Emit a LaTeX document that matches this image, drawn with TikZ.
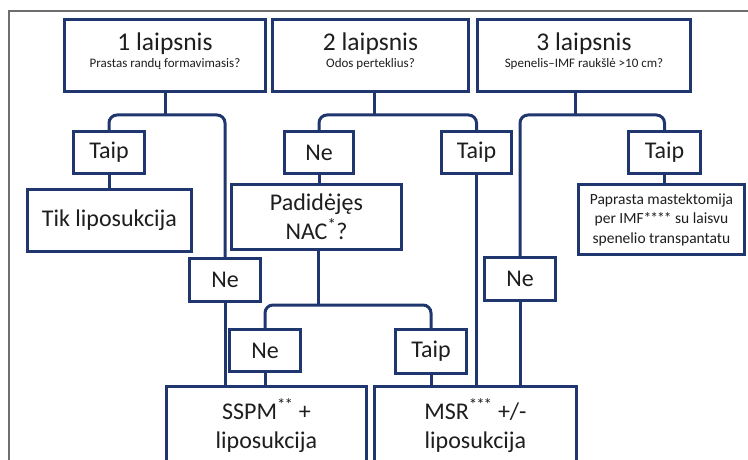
\documentclass[tikz,border=0pt]{standalone}
\usepackage{fontspec}
\setmainfont{Carlito}
\definecolor{navy}{RGB}{32,54,110}
\definecolor{txt}{RGB}{30,30,30}
\definecolor{framegray}{RGB}{110,110,110}
\newcommand{\tightast}{*\kern-1pt}
\begin{document}
\begin{tikzpicture}[x=1pt,y=-1pt,
  box/.style={draw=navy,line width=3pt,fill=white,inner sep=0pt,align=center,text=txt,font=\fontsize{24}{29}\selectfont},
  topbox/.style={box,minimum height=72},
  toptext/.style={align=center,text=txt,font=\fontsize{25.5}{29}\selectfont},
  smallbox/.style={box,font=\fontsize{15.5}{19.5}\selectfont},
  link/.style={draw=navy,line width=3pt,rounded corners=8pt},
  frameline/.style={draw=framegray,line width=1.5pt}]
\useasboundingbox (0,0) rectangle (748,460);
\draw[frameline] (9,462) -- (9,11) -- (750,11);

% top boxes
\node[topbox,minimum width=201] (b1) at (165,55.5) {};
\node[topbox,minimum width=196] (b2) at (370.5,55.5) {};
\node[topbox,minimum width=213] (b3) at (584,55.5) {};
\node[toptext] (l1) at ([yshift=4pt]b1.center)
  {1 laipsnis\\[-12pt]{\fontsize{13}{16}\selectfont Prastas randų formavimasis?}};
\node[toptext] (l2) at ([yshift=4pt]b2.center)
  {2 laipsnis\\[-12pt]{\fontsize{13}{16}\selectfont Odos perteklius?}};
\node[toptext] (l3) at ([yshift=4pt]b3.center)
  {3 laipsnis\\[-12pt]{\fontsize{13}{16}\selectfont Spenelis--IMF raukšlė >10 cm?}};

% answer boxes
\node[box,minimum width=71,minimum height=42] (t1) at (109,152.5) {Taip};
\node[box,minimum width=69,minimum height=42] (n2) at (319,152.5) {Ne};
\node[box,minimum width=70,minimum height=42] (t2) at (476.5,152.5) {Taip};
\node[box,minimum width=72,minimum height=42] (t4) at (664.5,152.5) {Taip};
\node[box,minimum width=71,minimum height=43] (n1) at (225,280) {Ne};
\node[box,minimum width=71,minimum height=43] (n4) at (520,279) {Ne};
\node[box,minimum width=71,minimum height=42] (n3) at (265,350.5) {Ne};
\node[box,minimum width=71,minimum height=44] (t3) at (431,351.5) {Taip};

% outcome boxes
\node[box,minimum width=164,minimum height=62] (tik) at (109.5,220.5) {Tik liposukcija};
\node[box,minimum width=170,minimum height=65] (pad) at (316.5,217) {Padidėjęs\\NAC\textsuperscript{*}?};
\node[smallbox,minimum width=166,minimum height=70] (pap) at (661.5,219.5)
  {Paprasta mastektomija\\per IMF\tightast\tightast\tightast* su laisvu\\spenelio transpantatu};
\node[box,minimum width=200,minimum height=79] (sspm) at (266.5,425.5) {SSPM\textsuperscript{\tightast*} +\\liposukcija};
\node[box,minimum width=202,minimum height=79] (msr) at (475.5,425.5) {MSR\textsuperscript{\tightast\tightast*} +/-\\liposukcija};

% junctions
\coordinate (j1) at (165,115);
\coordinate (j2) at (374,115);
\coordinate (j3) at (575,115);
\coordinate (j4) at (318,305);

% connectors
\draw[link] (b1.south) -- (j1);
\draw[link] (t1.north) |- (j1) -| (n1.north);
\draw[link] (t1.south) -- (t1.south |- tik.north);
\draw[link] (n1.south) -- (n1.south |- sspm.north);

\draw[link] (b2.south -| j2) -- (j2);
\draw[link] (n2.north) |- (j2) -| (t2.north);
\draw[link] (n2.south) -- (n2.south |- pad.north);
\draw[link] (t2.south) -- (t2.south |- msr.north);
\draw[link] (pad.south -| j4) -- (j4);
\draw[link] (n3.north) |- (j4) -| (t3.north);
\draw[link] (n3.south) -- (n3.south |- sspm.north);
\draw[link] (t3.south) -- (t3.south |- msr.north);

\draw[link] (b3.south -| j3) -- (j3);
\draw[link] (n4.north) |- (j3) -| (t4.north);
\draw[link] (n4.south) -- (n4.south |- msr.north);
\draw[link] (t4.south) -- (t4.south |- pap.north);
\end{tikzpicture}
\end{document}
